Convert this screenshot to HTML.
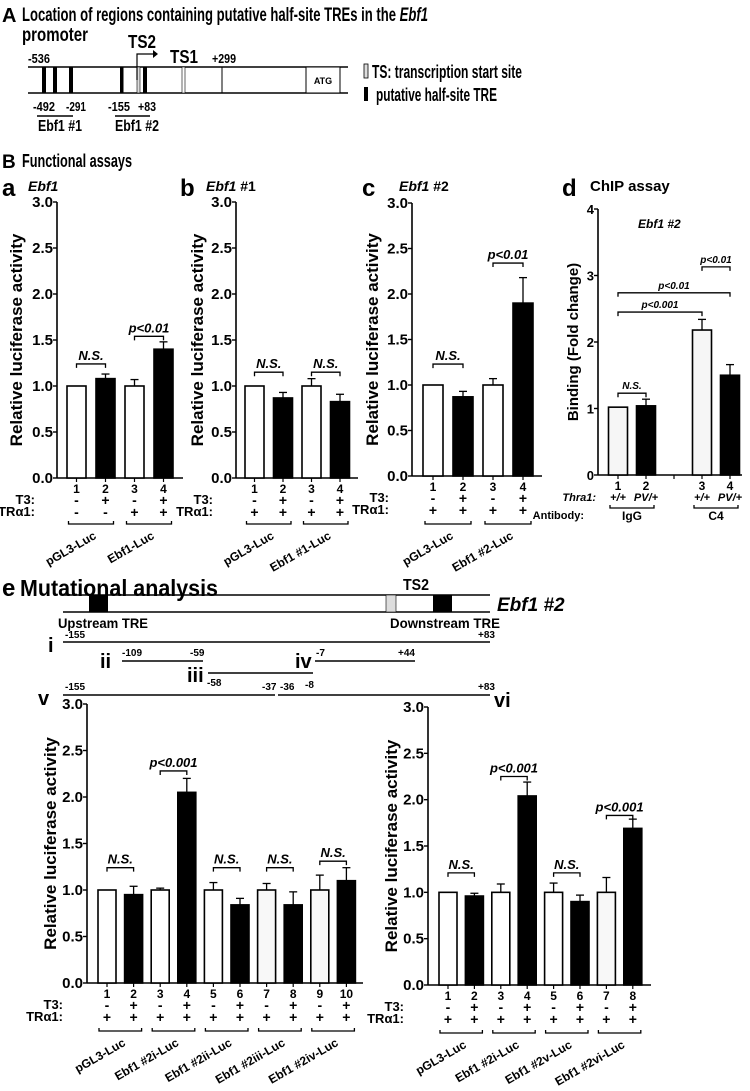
<!DOCTYPE html>
<html><head><meta charset="utf-8"><style>
html,body{margin:0;padding:0;background:#fff}
svg{display:block}
text{font-family:"Liberation Sans Narrow","Liberation Sans",sans-serif;font-weight:bold;fill:#000}
</style></head><body>
<svg id="fig" width="750" height="1091" viewBox="0 0 750 1091" xmlns="http://www.w3.org/2000/svg">
<g id="diagA">
<text x="2" y="22" font-size="20" font-family="Liberation Sans">A</text>
<text x="22" y="21" font-size="19" textLength="406" lengthAdjust="spacingAndGlyphs">Location of regions containing putative half-site TREs in the <tspan font-style="italic">Ebf1</tspan></text>
<text x="22" y="41" font-size="19" textLength="66" lengthAdjust="spacingAndGlyphs">promoter</text>
<line x1="28" y1="67" x2="348" y2="67" stroke="#000" stroke-width="1.5"/>
<line x1="28" y1="93" x2="348" y2="93" stroke="#000" stroke-width="1.5"/>
<rect x="42" y="67" width="4" height="26" fill="#000"/><rect x="53" y="67" width="4" height="26" fill="#000"/><rect x="69" y="67" width="4" height="26" fill="#000"/><rect x="120" y="67" width="3.5" height="26" fill="#000"/>
<rect x="137" y="67" width="3" height="26" fill="#ddd" stroke="#000" stroke-width="0.6"/><rect x="143" y="67" width="4" height="26" fill="#000"/>
<rect x="182" y="67" width="3" height="26" fill="#fff" stroke="#000" stroke-width="0.6"/>
<line x1="222" y1="67" x2="222" y2="93" stroke="#000"/>
<rect x="306" y="67" width="34" height="26" fill="#fff" stroke="#000"/>
<text x="323" y="84" font-size="9" text-anchor="middle">ATG</text>
<polyline points="137,80 137,54 153,54" fill="none" stroke="#000" stroke-width="1.2"/><polygon points="153,50 158,54 153,58" fill="#000"/>
<text x="128" y="48" font-size="18" textLength="28" lengthAdjust="spacingAndGlyphs">TS2</text>
<text x="28" y="63" font-size="13" textLength="22" lengthAdjust="spacingAndGlyphs">-536</text>
<text x="170" y="63" font-size="18" textLength="28" lengthAdjust="spacingAndGlyphs">TS1</text>
<text x="212" y="63" font-size="13" textLength="24" lengthAdjust="spacingAndGlyphs">+299</text>
<text x="33" y="111" font-size="13" textLength="22" lengthAdjust="spacingAndGlyphs">-492</text><text x="66" y="111" font-size="13" textLength="20" lengthAdjust="spacingAndGlyphs">-291</text>
<text x="108" y="111" font-size="13" textLength="22" lengthAdjust="spacingAndGlyphs">-155</text><text x="138" y="111" font-size="13" textLength="18" lengthAdjust="spacingAndGlyphs">+83</text>
<line x1="37" y1="116" x2="73" y2="116" stroke="#000" stroke-width="1.5"/><line x1="115" y1="116" x2="150" y2="116" stroke="#000" stroke-width="1.5"/>
<text x="38" y="131" font-size="16" textLength="44" lengthAdjust="spacingAndGlyphs">Ebf1 #1</text><text x="115" y="131" font-size="16" textLength="44" lengthAdjust="spacingAndGlyphs">Ebf1 #2</text>
<rect x="364" y="64" width="4" height="14" fill="#ddd" stroke="#000" stroke-width="0.8"/>
<text x="372" y="78" font-size="18" textLength="150" lengthAdjust="spacingAndGlyphs">TS: transcription start site</text>
<rect x="364" y="87" width="4" height="14" fill="#000"/>
<text x="376" y="101" font-size="18" textLength="121" lengthAdjust="spacingAndGlyphs">putative half-site TRE</text>
</g>
<text x="2" y="168" font-size="19" font-family="Liberation Sans">B</text>
<text x="22" y="167" font-size="18" textLength="110" lengthAdjust="spacingAndGlyphs">Functional assays</text>
<text x="2" y="196" font-size="24" font-family="Liberation Sans">a</text>
<text x="28" y="191" font-size="14" font-style="italic">Ebf1</text>
<text x="180" y="196" font-size="24" font-family="Liberation Sans">b</text>
<text x="206" y="191" font-size="14"><tspan font-style="italic">Ebf1</tspan> #1</text>
<text x="362" y="196" font-size="24" font-family="Liberation Sans">c</text>
<text x="399" y="191" font-size="14"><tspan font-style="italic">Ebf1</tspan> #2</text>
<text x="562" y="196" font-size="24" font-family="Liberation Sans">d</text>
<text x="590" y="191" font-size="15">ChIP assay</text>
<text x="638" y="228" font-size="12" font-style="italic">Ebf1 #2</text>
<text x="596" y="501" font-size="11" font-style="italic" text-anchor="end">Thra1:</text>
<text x="584" y="519" font-size="11" text-anchor="end">Antibody:</text>

<g>
<text x="2" y="596" font-size="24" font-family="Liberation Sans">e</text>
<text x="20" y="596" font-size="23" textLength="198" lengthAdjust="spacingAndGlyphs">Mutational analysis</text>
<text x="403" y="590" font-size="16" textLength="26" lengthAdjust="spacingAndGlyphs">TS2</text>
<line x1="63" y1="595" x2="490" y2="595" stroke="#000" stroke-width="1.5"/>
<line x1="63" y1="612" x2="490" y2="612" stroke="#000" stroke-width="1.5"/>
<rect x="89" y="595" width="19" height="17" fill="#000"/><rect x="386" y="595" width="10" height="17" fill="#ddd" stroke="#000" stroke-width="0.6"/><rect x="433" y="595" width="19" height="17" fill="#000"/>
<text x="497" y="611" font-size="19" font-style="italic">Ebf1 #2</text>
<text x="58" y="628" font-size="14" textLength="90" lengthAdjust="spacingAndGlyphs">Upstream TRE</text><text x="390" y="628" font-size="14" textLength="110" lengthAdjust="spacingAndGlyphs">Downstream TRE</text>
<text x="48" y="652" font-size="20">i</text><line x1="63" y1="642" x2="490" y2="642" stroke="#000" stroke-width="1.5"/>
<text x="65" y="638" font-size="10">-155</text><text x="478" y="638" font-size="10">+83</text>
<text x="100" y="668" font-size="20">ii</text><line x1="122" y1="661" x2="203" y2="661" stroke="#000" stroke-width="1.5"/>
<text x="122" y="656" font-size="10">-109</text><text x="190" y="656" font-size="10">-59</text>
<text x="187" y="682" font-size="20">iii</text><line x1="208" y1="673" x2="313" y2="673" stroke="#000" stroke-width="1.5"/>
<text x="207" y="686" font-size="10">-58</text>
<text x="295" y="668" font-size="20">iv</text><line x1="315" y1="661" x2="415" y2="661" stroke="#000" stroke-width="1.5"/>
<text x="316" y="656" font-size="10">-7</text><text x="398" y="656" font-size="10">+44</text>
<text x="38" y="705" font-size="20">v</text><line x1="63" y1="695" x2="275" y2="695" stroke="#000" stroke-width="1.5"/>
<text x="65" y="690" font-size="10">-155</text><text x="262" y="690" font-size="10">-37</text>
<line x1="278" y1="695" x2="490" y2="695" stroke="#000" stroke-width="1.5"/>
<text x="280" y="690" font-size="10">-36</text><text x="305" y="688" font-size="10">-8</text><text x="478" y="690" font-size="10">+83</text>
<text x="494" y="707" font-size="20">vi</text>
</g>
</svg>
<script>
// ---- data ----
const aValues=[1.0,1.08,1.0,1.4];
const aErrors=[0,0.05,0.07,0.08];
const bValues=[1.0,0.87,1.0,0.83];
const bErrors=[0,0.06,0.08,0.08];
const cValues=[1.0,0.87,1.0,1.9];
const cErrors=[0,0.06,0.07,0.28];
const dValues=[1.02,1.04,2.18,1.5];
const dErrors=[0,0.1,0.16,0.16];
const eLeftValues=[1.0,0.95,1.0,2.05,1.0,0.84,1.0,0.84,1.0,1.1];
const eLeftErrors=[0,0.09,0.02,0.15,0.08,0.07,0.07,0.14,0.16,0.14];
const eRightValues=[1.0,0.96,1.0,2.04,1.0,0.9,1.0,1.69];
const eRightErrors=[0,0.03,0.09,0.15,0.1,0.07,0.16,0.1];
const lucTicks=["0.0","0.5","1.0","1.5","2.0","2.5","3.0"];
const chipTicks=["0","1","2","3","4"];
const aT3=["-","+","-","+"], aTR=["-","-","+","+"];
const stdT3=["-","+","-","+","-","+","-","+","-","+"], stdTR=["+","+","+","+","+","+","+","+","+","+"];
const aGroups=["pGL3-Luc","Ebf1-Luc"];
const bGroups=["pGL3-Luc","Ebf1 #1-Luc"];
const cGroups=["pGL3-Luc","Ebf1 #2-Luc"];
const eLeftGroups=["pGL3-Luc","Ebf1 #2i-Luc","Ebf1 #2ii-Luc","Ebf1 #2iii-Luc","Ebf1 #2iv-Luc"];
const eRightGroups=["pGL3-Luc","Ebf1 #2i-Luc","Ebf1 #2v-Luc","Ebf1 #2vi-Luc"];
const aSig=[[0,1,1.24,"N.S."],[2,3,1.54,"p<0.01"]];
const bSig=[[0,1,1.15,"N.S."],[2,3,1.15,"N.S."]];
const cSig=[[0,1,1.23,"N.S."],[2,3,2.34,"p<0.01"]];
const dSig=[[0,1,1.23,"N.S."],[0,2,2.45,"p<0.001"],[0,3,2.74,"p<0.01"],[2,3,3.13,"p<0.01"]];
const eLeftSig=[[0,1,1.24,"N.S."],[2,3,2.28,"p<0.001"],[4,5,1.24,"N.S."],[6,7,1.24,"N.S."],[8,9,1.31,"N.S."]];
const eRightSig=[[0,1,1.21,"N.S."],[2,3,2.25,"p<0.001"],[4,5,1.21,"N.S."],[6,7,1.83,"p<0.001"]];

const NS="http://www.w3.org/2000/svg";
const svg=document.getElementById('fig');
function mk(tag,attrs,parent){const e=document.createElementNS(NS,tag);for(const k in attrs)e.setAttribute(k,attrs[k]);(parent||svg).appendChild(e);return e;}
function txt(s,attrs,parent){const e=mk('text',attrs,parent);e.textContent=s;return e;}

function chart(id,cfg,values,errors,ticks,sig,t3,tr,groups,fills){
  const g=mk('g',{});
  
  
  const yS=v=>cfg.y0-(v/cfg.max)*(cfg.y0-cfg.yTop);
  const xS=i=>cfg.x0c+cfg.pos[i]*cfg.step;
  const ya=mk('line',{x1:cfg.ax,y1:cfg.yTop,x2:cfg.ax,y2:cfg.y0,stroke:'#000','stroke-width':1.6},g);
  
  
  const xa=mk('line',{x1:cfg.ax,y1:cfg.y0,x2:cfg.xEnd,y2:cfg.y0,stroke:'#000','stroke-width':1.6},g);
  
  
  ticks.forEach((t,i)=>{const v=i*cfg.max/(ticks.length-1);const y=yS(v);
    mk('line',{x1:cfg.ax-4,y1:y,x2:cfg.ax,y2:y,stroke:'#000','stroke-width':1.4},g);
    const tl=txt(t,{x:cfg.ax-4,y:y+5,'font-size':cfg.tickFs||15,'text-anchor':'end'},g);
    
    });
  const tt=txt(cfg.title,{x:0,y:0,'font-size':cfg.titleFs||17,'text-anchor':'middle',transform:`translate(${cfg.titleX},${(cfg.yTop+cfg.y0)/2}) rotate(-90)`},g);
  
  
  (cfg.extraTicks||[]).forEach(x=>mk('line',{x1:x,y1:cfg.y0,x2:x,y2:cfg.y0+4,stroke:'#000','stroke-width':1.2},g));
  values.forEach((v,i)=>{const cx=xS(i);const y=yS(v);
    mk('line',{x1:cx,y1:cfg.y0,x2:cx,y2:cfg.y0+4,stroke:'#000','stroke-width':1.2},g);
    if(errors[i]>0){const ye=yS(v+errors[i]);
      mk('line',{x1:cx,y1:y,x2:cx,y2:ye,stroke:'#000','stroke-width':1.3},g);
      mk('line',{x1:cx-4,y1:ye,x2:cx+4,y2:ye,stroke:'#000','stroke-width':1.3},g);}
    const b=mk('rect',{x:cx-cfg.bw/2,y:y,width:cfg.bw,height:cfg.y0-y,fill:(i%2? '#000':fills[i>>1]||'#fff'),stroke:'#000','stroke-width':1.6},g);
    
    
    txt(String(i+1),{x:cx,y:cfg.y0+15,'font-size':12,'text-anchor':'middle'},g);
    if(t3){txt(t3[i],{x:cx,y:cfg.y0+27,'font-size':14,'text-anchor':'middle'},g);
      txt(tr[i],{x:cx,y:cfg.y0+39,'font-size':14,'text-anchor':'middle'},g);}
  });
  if(t3){txt('T3:',{x:cfg.ax-cfg.lblOff,y:cfg.y0+26,'font-size':13,'text-anchor':'end'},g);
    txt('TR\u03b11:',{x:cfg.ax-cfg.lblOff,y:cfg.y0+38,'font-size':13,'text-anchor':'end'},g);}
  groups.forEach((gname,k)=>{const x1=xS(2*k)-8,x2=xS(2*k+1)+8,by=cfg.y0+cfg.brY;
    mk('polyline',{points:`${x1},${by-3} ${x1},${by} ${x2},${by} ${x2},${by-3}`,fill:'none',stroke:'#000','stroke-width':1.3},g);
    if(cfg.groupFlat){txt(gname,{x:(x1+x2)/2,y:by+12,'font-size':12,'text-anchor':'middle'},g);}
    else{const cx=(x1+x2)/2+6,cy=by+14;
      const gl=txt(gname,{x:cx,y:cy,'font-size':12,'text-anchor':'end',transform:`rotate(-30 ${cx} ${cy})`},g);
      
      }
  });
  sig.forEach(s=>{const x1=xS(s[0]),x2=xS(s[1]),y=yS(s[2]);
    mk('polyline',{points:`${x1},${y+4} ${x1},${y} ${x2},${y} ${x2},${y+4}`,fill:'none',stroke:'#000','stroke-width':1.3},g);
    const sl=txt(s[3],{x:(x1+x2)/2,y:y-4,'font-size':cfg.sigFs||13,'font-style':'italic','text-anchor':'middle'},g);
    
    });
}
const p4=[0,1,2,3];
chart('chart-a-ebf1',{ax:57,xEnd:183,y0:478,yTop:202,max:3,x0c:76.5,step:29,pos:p4,bw:19,title:'Relative luciferase activity',titleX:22,lblOff:22,brY:46},aValues,aErrors,lucTicks,aSig,aT3,aTR,aGroups,['#fff','#fff']);
chart('chart-b-ebf1-1',{ax:236,xEnd:358,y0:478,yTop:202,max:3,x0c:254.5,step:28.5,pos:p4,bw:19,title:'Relative luciferase activity',titleX:203,lblOff:23,brY:46},bValues,bErrors,lucTicks,bSig,stdT3,stdTR,bGroups,['#fff','#fff']);
chart('chart-c-ebf1-2',{ax:412,xEnd:542,y0:476,yTop:203,max:3,x0c:433,step:30,pos:p4,bw:20,title:'Relative luciferase activity',titleX:378,lblOff:23,brY:48},cValues,cErrors,lucTicks,cSig,stdT3,stdTR,cGroups,['#fff','#fff']);
chart('chart-d-chip',{ax:598,xEnd:742,y0:475,yTop:209,max:4,x0c:618,step:28,pos:[0,1,3,4],bw:19,title:'Binding (Fold change)',titleX:578,tickFs:13,titleFs:15,brY:33,groupFlat:true,sigFs:10,extraTicks:[674]},dValues,dErrors,chipTicks,dSig,null,null,['IgG','C4'],['#f6f6f6','#f6f6f6']);
</script>
<script>
(function(){
const p10=[0,1,2,3,4,5,6,7,8,9];
chart('chart-e-left',{ax:87,xEnd:363,y0:983,yTop:704,max:3,x0c:107,step:26.6,pos:p10,bw:18,title:'Relative luciferase activity',titleX:56,lblOff:24,brY:48},eLeftValues,eLeftErrors,lucTicks,eLeftSig,stdT3,stdTR,eLeftGroups,['#fff','#fff','#fff','#f8f8f8','#f8f8f8']);
chart('chart-e-right',{ax:428,xEnd:651,y0:985,yTop:707,max:3,x0c:448,step:26.4,pos:p10,bw:18,title:'Relative luciferase activity',titleX:397,lblOff:24,brY:48},eRightValues,eRightErrors,lucTicks,eRightSig,stdT3.slice(0,8),stdTR.slice(0,8),eRightGroups,['#fff','#fff','#fff','#f8f8f8']);
const g=mk('g',{});


[["+/+",618],["PV/+",646],["+/+",702],["PV/+",730]].forEach(d=>txt(d[0],{x:d[1],y:501,'font-size':11,'font-style':'italic','text-anchor':'middle'},g));
})();
</script>
</body></html>
